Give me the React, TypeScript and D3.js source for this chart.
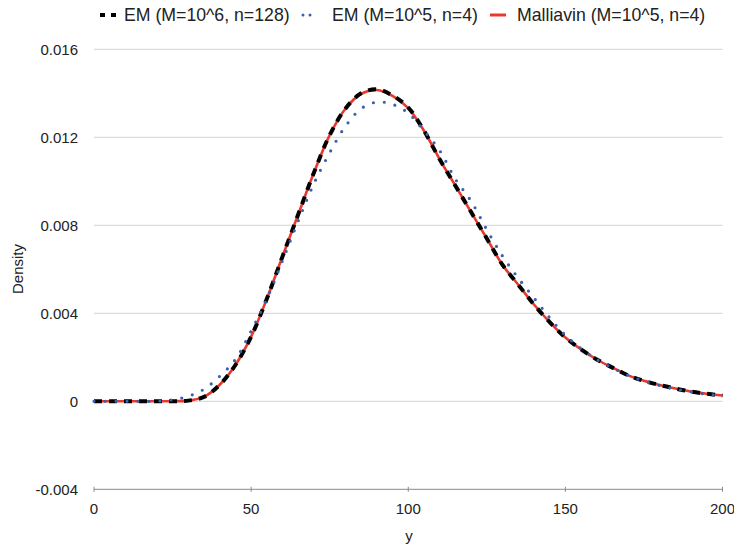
import React from "react";
import * as d3 from "d3";

const xs = [0, 5, 10, 15, 20, 25, 30, 35, 40, 45, 50, 55, 60, 65, 70, 75, 80, 85, 90, 95, 100, 105, 110, 115, 120, 125, 130, 135, 140, 145, 150, 155, 160, 165, 170, 175, 180, 185, 190, 195, 200];

const emFine = [0, 0, 0, 0, 0, 0.000005, 0.00003, 0.0002, 0.00075, 0.00165, 0.00294, 0.00466, 0.00659, 0.0085, 0.0104, 0.0121, 0.0133, 0.014, 0.01418, 0.0139, 0.01335, 0.0123, 0.011, 0.0098, 0.0086, 0.0074, 0.0062, 0.0053, 0.0044, 0.0036, 0.0029, 0.00236, 0.0019, 0.00153, 0.00118, 0.00093, 0.00074, 0.00058, 0.00044, 0.00034, 0.00026];

const emCoarse = [0, 0, 0, 0, 0, 0.00007, 0.00023, 0.00055, 0.00114, 0.0019, 0.0032, 0.00465, 0.0064, 0.0082, 0.0099, 0.0113, 0.0125, 0.0133, 0.0136, 0.0135, 0.0131, 0.0123, 0.0114, 0.0101, 0.0091, 0.0078, 0.0066, 0.0056, 0.0047, 0.0038, 0.003, 0.0024, 0.0019, 0.00152, 0.00118, 0.00092, 0.00072, 0.00056, 0.00043, 0.00032, 0.00025];

const malliavin = [0, 0, 0, 0, 0, 0.000005, 0.00003, 0.0002, 0.00075, 0.00165, 0.00294, 0.00466, 0.00659, 0.0085, 0.0104, 0.0121, 0.0133, 0.01398, 0.01415, 0.01388, 0.01333, 0.0123, 0.011, 0.0098, 0.0086, 0.0074, 0.0062, 0.0053, 0.0044, 0.0036, 0.0029, 0.00236, 0.0019, 0.00153, 0.00118, 0.00093, 0.00074, 0.00058, 0.00044, 0.00034, 0.00026];

const xTicks = [0, 50, 100, 150, 200];
const yTicks = [-0.004, 0, 0.004, 0.008, 0.012, 0.016];
const yTickLabels = ["-0.004", "0", "0.004", "0.008", "0.012", "0.016"];
const legendLabels = ["EM (M=10^6, n=128)", "EM (M=10^5, n=4)", "Malliavin (M=10^5, n=4)"];

const FONT = "'Liberation Sans', Arial, Helvetica, sans-serif";

export default function App() {
  React.useEffect(() => {
    document.body.style.margin = "0";
  }, []);
  const x = d3.scaleLinear().domain([0, 200]).range([94, 722.5]);
  const y = d3.scaleLinear().domain([-0.004, 0.016]).range([489.3, 49.3]);
  const line = (vals: number[]) =>
    d3
      .line<number>()
      .x((_, i) => x(xs[i]))
      .y((d) => y(Math.max(0, d)))
      .curve(d3.curveCatmullRom.alpha(0.5))(vals) || "";

  const blue = "#3d5fae";
  const red = "#e8392e";

  return (
    <svg width={734} height={547} style={{ position: "absolute", left: 0, top: 0, background: "#fff" }} fontFamily={FONT}>
      {yTicks.filter((t) => t > -0.004).map((t) => (
        <line key={t} x1={x(0)} x2={x(200)} y1={y(t)} y2={y(t)} stroke="#d3d3d3" strokeWidth={1} />
      ))}
      <line x1={x(0)} x2={x(200)} y1={y(-0.004)} y2={y(-0.004)} stroke="#8a8a8a" strokeWidth={1} />
      {xTicks.map((t) => (
        <g key={t}>
          <line x1={x(t)} x2={x(t)} y1={y(-0.004) - 2.5} y2={y(-0.004) + 2.5} stroke="#8a8a8a" strokeWidth={1} />
          <text x={x(t)} y={514} textAnchor="middle" fontSize={15} fill="#222">{t}</text>
        </g>
      ))}
      {yTicks.map((t, i) => (
        <text key={t} x={78} y={y(t)} dy="0.35em" textAnchor="end" fontSize={15} fill="#222">{yTickLabels[i]}</text>
      ))}
      <text x={409} y={541} textAnchor="middle" fontSize={15} fill="#222">y</text>
      <text transform={`translate(23,269) rotate(-90)`} textAnchor="middle" fontSize={15} fill="#222">Density</text>

      <path d={line(malliavin)} fill="none" stroke={red} strokeWidth={2.6} />
      <path d={line(emFine)} fill="none" stroke="#000" strokeWidth={4} strokeDasharray="8 7" />
      <path d={line(emCoarse)} fill="none" stroke={blue} strokeWidth={3.2} strokeDasharray="0 11" strokeLinecap="round" />

      <g fontSize={17.7} fill="#222">
        <line x1={100} x2={116} y1={15} y2={15} stroke="#000" strokeWidth={4} strokeDasharray="5 6" />
        <text x={124} y={15} dy="0.35em">{legendLabels[0]}</text>
        <line x1={303} x2={311} y1={15} y2={15} stroke={blue} strokeWidth={3} strokeDasharray="0 7" strokeLinecap="round" />
        <text x={332} y={15} dy="0.35em">{legendLabels[1]}</text>
        <line x1={490} x2={506} y1={15} y2={15} stroke={red} strokeWidth={3} />
        <text x={517} y={15} dy="0.35em">{legendLabels[2]}</text>
      </g>
    </svg>
  );
}
